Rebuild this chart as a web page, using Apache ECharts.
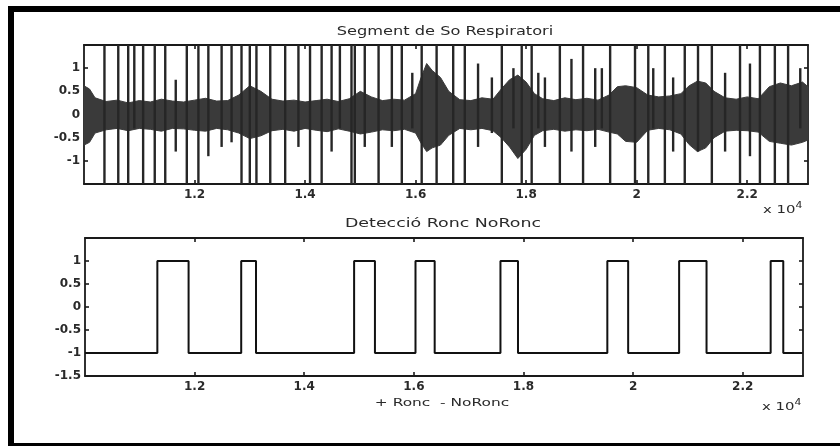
<!DOCTYPE html>
<html>
<head>
    <meta charset="utf-8">
    <script src="https://cdn.jsdelivr.net/npm/echarts@6/dist/echarts.min.js"></script>
    <style>
        html, body { margin: 0; padding: 0; background: #fff; }
        #main { width: 840px; height: 446px; }
    </style>
</head>
<body>
    <div id="main"></div>
    <script>
        // x values are in units of 10^4 samples
        var xMin = 1.0;
        var xMax = 2.31;
        var xTicks = [1.2, 1.4, 1.6, 1.8, 2.0, 2.2];
        var xTickLabels = ['1.2', '1.4', '1.6', '1.8', '2', '2.2'];
        var yTicksTop = [-1, -0.5, 0, 0.5, 1];
        var yTicksBottom = [-1.5, -1, -0.5, 0, 0.5, 1];

        // envelope of the dense part of the breathing sound
        var bandX = [1.00, 1.01, 1.02, 1.04, 1.06, 1.08, 1.10, 1.12, 1.14, 1.16,
            1.18, 1.20, 1.22, 1.24, 1.26, 1.28, 1.30, 1.32, 1.34, 1.36,
            1.38, 1.40, 1.42, 1.44, 1.46, 1.48, 1.50, 1.52, 1.54, 1.56,
            1.58, 1.60, 1.61, 1.62, 1.63, 1.645, 1.66, 1.68, 1.70, 1.72,
            1.74, 1.755, 1.77, 1.785, 1.80, 1.815, 1.83, 1.85, 1.87, 1.89,
            1.91, 1.93, 1.95, 1.965, 1.98, 2.00, 2.02, 2.04, 2.06, 2.08,
            2.095, 2.11, 2.125, 2.14, 2.16, 2.18, 2.20, 2.22, 2.24, 2.26,
            2.28, 2.30, 2.31];
        var bandUp = [0.62, 0.55, 0.36, 0.28, 0.31, 0.25, 0.3, 0.27, 0.33, 0.29,
            0.27, 0.31, 0.35, 0.29, 0.3, 0.42, 0.62, 0.5, 0.33, 0.29,
            0.31, 0.27, 0.3, 0.33, 0.28, 0.34, 0.5, 0.38, 0.3, 0.33,
            0.31, 0.45, 0.8, 1.1, 0.95, 0.8, 0.5, 0.32, 0.3, 0.36,
            0.33, 0.55, 0.75, 0.85, 0.7, 0.45, 0.34, 0.3, 0.36, 0.32,
            0.35, 0.31, 0.42, 0.6, 0.62, 0.58, 0.42, 0.38, 0.4, 0.45,
            0.62, 0.72, 0.68, 0.5, 0.36, 0.33, 0.38, 0.34, 0.6, 0.68,
            0.62, 0.7, 0.6];
        var bandLo = [-0.66, -0.6, -0.4, -0.33, -0.3, -0.35, -0.3, -0.32, -0.36, -0.3,
            -0.31, -0.34, -0.36, -0.3, -0.33, -0.4, -0.52, -0.46, -0.35, -0.32,
            -0.36, -0.3, -0.34, -0.37, -0.31, -0.36, -0.42, -0.38, -0.33, -0.35,
            -0.32, -0.4, -0.62, -0.8, -0.72, -0.66, -0.45, -0.3, -0.33, -0.3,
            -0.35, -0.5, -0.7, -0.95, -0.75, -0.45, -0.35, -0.32, -0.36, -0.33,
            -0.35, -0.32, -0.38, -0.42, -0.58, -0.6, -0.34, -0.3, -0.33, -0.42,
            -0.65, -0.8, -0.72, -0.5, -0.36, -0.34, -0.35, -0.38, -0.58, -0.62,
            -0.66, -0.6, -0.55];

        // vertical spikes: position, top end, bottom end
        var spikeX = [1.037, 1.062, 1.080, 1.091, 1.107, 1.128, 1.147, 1.166, 1.186, 1.207,
            1.225, 1.249, 1.267, 1.285, 1.300, 1.312, 1.337, 1.364, 1.388, 1.409,
            1.430, 1.448, 1.463, 1.484, 1.490, 1.508, 1.533, 1.557, 1.575, 1.594,
            1.611, 1.638, 1.668, 1.689, 1.713, 1.738, 1.756, 1.777, 1.792, 1.810,
            1.822, 1.834, 1.861, 1.882, 1.903, 1.925, 1.937, 1.952, 1.997, 2.021,
            2.030, 2.051, 2.066, 2.087, 2.111, 2.136, 2.160, 2.187, 2.205, 2.223,
            2.250, 2.274, 2.296];
        var spikeHi = [1.5, 1.5, 1.5, 1.5, 1.5, 1.5, 1.5, 0.75, 1.5, 1.5,
            1.5, 1.5, 1.5, 1.5, 1.5, 1.5, 1.5, 1.5, 1.5, 1.5,
            1.5, 1.5, 1.5, 1.5, 1.5, 1.5, 1.5, 1.5, 1.5, 0.9,
            1.5, 1.5, 1.5, 1.5, 1.1, 0.8, 1.5, 1.0, 1.5, 1.5,
            0.9, 0.8, 1.5, 1.2, 1.5, 1.0, 1.0, 1.5, 1.5, 1.5,
            1.0, 1.5, 0.8, 1.5, 1.5, 1.5, 0.9, 1.5, 1.1, 1.5,
            1.5, 1.5, 1.0];
        var spikeLo = [-1.5, -1.5, -1.5, -0.3, -1.5, -1.5, -1.5, -0.8, -1.5, -1.5,
            -0.9, -0.7, -0.6, -1.5, -1.5, -1.5, -1.5, -1.5, -0.7, -1.5,
            -1.5, -0.8, -0.3, -1.5, -1.5, -0.7, -1.5, -0.7, -1.5, -0.3,
            -1.5, -1.5, -1.5, -1.5, -0.7, -0.4, -1.5, -0.3, -1.5, -1.5,
            -0.3, -0.7, -1.5, -0.8, -1.5, -0.7, -0.3, -1.5, -1.5, -1.5,
            -0.3, -1.5, -0.8, -1.5, -0.8, -1.5, -0.8, -1.5, -0.9, -1.5,
            -1.5, -1.5, -0.3];

        // Ronc / NoRonc detection pulses
        var pulseStart = [1.132, 1.285, 1.491, 1.603, 1.758, 1.953, 2.084, 2.251];
        var pulseEnd = [1.189, 1.312, 1.529, 1.638, 1.790, 1.991, 2.134, 2.274];
        var detectEnd = 2.308;

        var font = 'DejaVu Sans';
        var ink = '#1a1a1a';
        var bandColor = '#3a3a3a';

        var bandData = bandX.map(function (x, i) { return [x, bandLo[i], bandUp[i]]; });
        var spikeData = spikeX.map(function (x, i) { return [x, spikeLo[i], spikeHi[i]]; });

        var detectData = [[xMin, -1]];
        pulseStart.forEach(function (s, i) {
            detectData.push([s, -1], [s, 1], [pulseEnd[i], 1], [pulseEnd[i], -1]);
        });
        detectData.push([detectEnd, -1]);

        function xLabel(v) {
            for (var i = 0; i < xTicks.length; i++) {
                if (Math.abs(xTicks[i] - v) < 1e-6) return xTickLabels[i];
            }
            return '';
        }

        function xAxisOf(grid, pos, ticks, labels) {
            return {
                type: 'value', gridIndex: grid, position: pos, min: xMin, max: xMax,
                axisLine: {show: true, onZero: false, lineStyle: {color: ink, width: 1.8}},
                axisTick: {show: true, inside: true, length: 4, customValues: ticks,
                    lineStyle: {color: ink, width: 1.6}},
                axisLabel: {show: labels, customValues: ticks, formatter: xLabel, margin: 5,
                    fontFamily: font, fontSize: 12, fontWeight: 'bold', color: '#2a2a2a'},
                splitLine: {show: false}
            };
        }

        function yAxisOf(grid, pos, ticks, labels) {
            return {
                type: 'value', gridIndex: grid, position: pos, min: -1.5, max: 1.5,
                axisLine: {show: true, onZero: false, lineStyle: {color: ink, width: 1.8}},
                axisTick: {show: true, inside: true, length: 4, customValues: ticks,
                    lineStyle: {color: ink, width: 1.6}},
                axisLabel: {show: labels, customValues: ticks, margin: 4,
                    fontFamily: font, fontSize: 12, fontWeight: 'bold', color: '#2a2a2a'},
                splitLine: {show: false}
            };
        }

        function label(text, x, y, size, sx, align) {
            return {
                type: 'text', x: x, y: y, scaleX: sx, silent: true,
                style: {text: text, fontFamily: font, fontSize: size, fill: '#2a2a2a',
                    align: align || 'center', verticalAlign: 'middle'}
            };
        }

        function exponent(x, y) {
            return {
                type: 'text', x: x, y: y, scaleX: 1.35, silent: true,
                style: {text: '{a|x 10}{b|4}', verticalAlign: 'middle',
                    rich: {
                        a: {fontFamily: font, fontSize: 11, fill: '#2a2a2a'},
                        b: {fontFamily: font, fontSize: 8, fill: '#2a2a2a', verticalAlign: 'top', padding: [0, 0, 8, 0]}
                    }}
            };
        }

        var chart = echarts.init(document.getElementById('main'), null, {renderer: 'canvas'});

        var option = {
            backgroundColor: '#fff',
            animation: false,
            grid: [
                {left: 84, top: 45, width: 724, height: 139},
                {left: 85, top: 238, width: 718, height: 138}
            ],
            xAxis: [
                xAxisOf(0, 'bottom', xTicks, true),
                xAxisOf(0, 'top', xTicks, false),
                xAxisOf(1, 'bottom', xTicks, true),
                xAxisOf(1, 'top', xTicks, false)
            ],
            yAxis: [
                yAxisOf(0, 'left', yTicksTop, true),
                yAxisOf(0, 'right', yTicksTop, false),
                yAxisOf(1, 'left', yTicksBottom, true),
                yAxisOf(1, 'right', yTicksBottom, false)
            ],
            series: [
                {
                    // dense band drawn as one polygon: upper envelope, then lower envelope back
                    type: 'custom', xAxisIndex: 0, yAxisIndex: 0, data: bandData,
                    encode: {x: 0, y: [1, 2]}, silent: true,
                    renderItem: function (params, api) {
                        if (params.dataIndex !== 0) return null;
                        var pts = [];
                        var i;
                        for (i = 0; i < bandData.length; i++) {
                            pts.push(api.coord([bandData[i][0], bandData[i][2]]));
                        }
                        for (i = bandData.length - 1; i >= 0; i--) {
                            pts.push(api.coord([bandData[i][0], bandData[i][1]]));
                        }
                        return {
                            type: 'polygon',
                            shape: {points: pts},
                            style: {fill: bandColor, stroke: bandColor, lineWidth: 1}
                        };
                    }
                },
                {
                    type: 'custom', xAxisIndex: 0, yAxisIndex: 0, data: spikeData,
                    encode: {x: 0, y: [1, 2]}, silent: true,
                    renderItem: function (params, api) {
                        var p1 = api.coord([api.value(0), api.value(1)]);
                        var p2 = api.coord([api.value(0), api.value(2)]);
                        return {
                            type: 'line',
                            shape: {x1: p1[0], y1: p1[1], x2: p2[0], y2: p2[1]},
                            style: {stroke: '#262626', lineWidth: 2.4}
                        };
                    }
                },
                {
                    type: 'line', xAxisIndex: 2, yAxisIndex: 2, data: detectData,
                    showSymbol: false, silent: true,
                    lineStyle: {color: '#111', width: 2}
                }
            ],
            graphic: [
                {
                    type: 'rect', silent: true,
                    shape: {x: 11, y: 9, width: 840, height: 437},
                    style: {fill: 'none', stroke: '#000', lineWidth: 6}
                },
                label('Segment de So Respiratori', 445, 32, 12, 1.35),
                label('Detecció Ronc NoRonc', 443, 224, 12, 1.45),
                label('+ Ronc  - NoRonc', 442, 403, 11, 1.4),
                exponent(763, 210),
                exponent(762, 407)
            ]
        };

        chart.setOption(option);
    </script>
</body>
</html>
